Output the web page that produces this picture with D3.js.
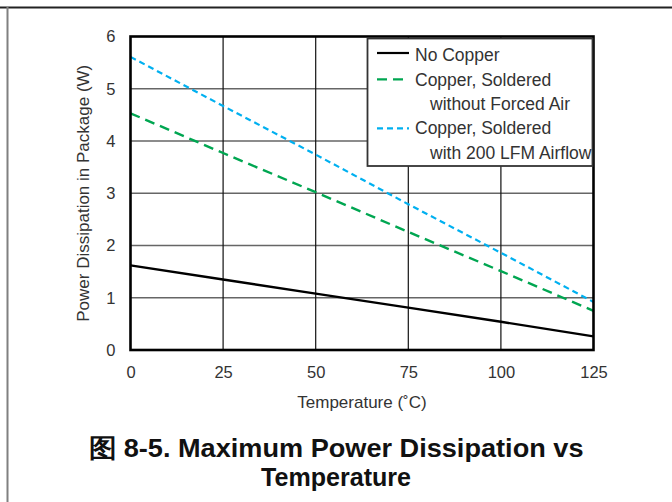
<!DOCTYPE html>
<html>
<head>
<meta charset="utf-8">
<script src="https://cdn.jsdelivr.net/npm/d3@7"></script>
<style>
  html, body { margin: 0; padding: 0; background: #fff; }
  svg { display: block; }
</style>
</head>
<body>
<svg id="chart" width="672" height="502"></svg>
<script>
// Ambient temperature (°C)
const temperatures = [0, 25, 50, 75, 100, 125];
// Maximum power dissipation (W) for each mounting condition
const noCopper = [1.62, 1.35, 1.08, 0.81, 0.54, 0.26];
const copperNoAir = [4.53, 3.77, 3.02, 2.26, 1.51, 0.75];
const copperAirflow = [5.61, 4.67, 3.74, 2.79, 1.86, 0.92];

const xTicks = [0, 25, 50, 75, 100, 125];
const yTicks = [0, 1, 2, 3, 4, 5, 6];

const seriesNames = ["No Copper", "Copper, Soldered", "Copper, Soldered"];
const seriesSubNames = ["", "without Forced Air", "with 200 LFM Airflow"];

const svg = d3.select("#chart");
const font = "'Liberation Sans', Arial, sans-serif";

// Page frame lines
svg.append("line").attr("x1", 0).attr("x2", 672).attr("y1", 7.5).attr("y2", 7.5)
  .attr("stroke", "#222").attr("stroke-width", 2);
svg.append("line").attr("x1", 7.5).attr("x2", 7.5).attr("y1", 7).attr("y2", 502)
  .attr("stroke", "#808080").attr("stroke-width", 2);

const plot = { left: 130.5, right: 593.5, top: 36.5, bottom: 350 };

const x = d3.scaleLinear().domain([0, 125]).range([plot.left, plot.right]);
const y = d3.scaleLinear().domain([0, 6]).range([plot.bottom, plot.top]);

// Grid
const grid = svg.append("g");
grid.selectAll("line.h").data(yTicks.slice(1, -1)).join("line")
  .attr("x1", plot.left).attr("x2", plot.right)
  .attr("y1", d => y(d)).attr("y2", d => y(d))
  .attr("stroke", "#666").attr("stroke-width", 1.3);
grid.selectAll("line.v").data(xTicks.slice(1, -1)).join("line")
  .attr("y1", plot.top).attr("y2", plot.bottom)
  .attr("x1", d => x(d)).attr("x2", d => x(d))
  .attr("stroke", "#111").attr("stroke-width", 1.2);

// Axes (tick labels only; frame drawn separately)
const xAxis = svg.append("g").attr("transform", `translate(0,${plot.bottom})`)
  .call(d3.axisBottom(x).tickValues(xTicks).tickFormat(d3.format("d")).tickSize(0).tickPadding(16));
const yAxis = svg.append("g").attr("transform", `translate(${plot.left},0)`)
  .call(d3.axisLeft(y).tickValues(yTicks).tickFormat(d3.format("d")).tickSize(0).tickPadding(15));
[xAxis, yAxis].forEach(a => {
  a.select(".domain").remove();
  a.selectAll("text").attr("font-family", font).attr("font-size", 16.5).attr("fill", "#333");
});

// Series
const line = d3.line().x((d, i) => x(temperatures[i])).y(d => y(d));
const series = [
  { values: noCopper, color: "#000", dash: null, width: 2.4 },
  { values: copperNoAir, color: "#00a651", dash: "10,6", width: 2.4 },
  { values: copperAirflow, color: "#00b0f0", dash: "6,4", width: 2.2 }
];
series.forEach(s => {
  svg.append("path").datum(s.values)
    .attr("d", line).attr("fill", "none")
    .attr("stroke", s.color).attr("stroke-width", s.width)
    .attr("stroke-dasharray", s.dash);
});

// Plot frame
svg.append("rect").attr("x", plot.left).attr("y", plot.top)
  .attr("width", plot.right - plot.left).attr("height", plot.bottom - plot.top)
  .attr("fill", "none").attr("stroke", "#000").attr("stroke-width", 2.6);

// Legend
const lg = svg.append("g");
lg.append("rect").attr("x", 367.5).attr("y", 38.5).attr("width", 225).attr("height", 127.5)
  .attr("fill", "#fff").attr("stroke", "#333").attr("stroke-width", 1.8);
const rowLineY = [53, 79.3, 128.3];
const rowTextY = [61, 85.5, 134];
series.forEach((s, i) => {
  lg.append("line").attr("x1", 377).attr("x2", 409).attr("y1", rowLineY[i]).attr("y2", rowLineY[i])
    .attr("stroke", s.color).attr("stroke-width", 2.2).attr("stroke-dasharray", s.dash);
  lg.append("text").attr("x", 415).attr("y", rowTextY[i]).text(seriesNames[i])
    .attr("font-family", font).attr("font-size", 17.5).attr("fill", "#333");
  if (seriesSubNames[i]) {
    lg.append("text").attr("x", 430).attr("y", rowTextY[i] + 24.5).text(seriesSubNames[i])
      .attr("font-family", font).attr("font-size", 17.5).attr("fill", "#333");
  }
});

// Axis titles
svg.append("text").attr("x", (plot.left + plot.right) / 2).attr("y", 408)
  .attr("text-anchor", "middle").text("Temperature (˚C)")
  .attr("font-family", font).attr("font-size", 17).attr("fill", "#333");
svg.append("text")
  .attr("transform", `translate(89,${(plot.top + plot.bottom) / 2}) rotate(-90)`)
  .attr("text-anchor", "middle").text("Power Dissipation in Package (W)")
  .attr("font-family", font).attr("font-size", 17).attr("fill", "#333");

// Caption
const cap = svg.append("text").attr("text-anchor", "middle")
  .attr("font-family", font).attr("font-size", 25.5).attr("font-weight", "bold").attr("fill", "#111");
cap.append("tspan").attr("x", 336).attr("y", 457)
  .attr("textLength", 495).attr("lengthAdjust", "spacingAndGlyphs")
  .text("图 8-5. Maximum Power Dissipation vs");
cap.append("tspan").attr("x", 336).attr("y", 486)
  .attr("textLength", 150).attr("lengthAdjust", "spacingAndGlyphs")
  .text("Temperature");
</script>
</body>
</html>
